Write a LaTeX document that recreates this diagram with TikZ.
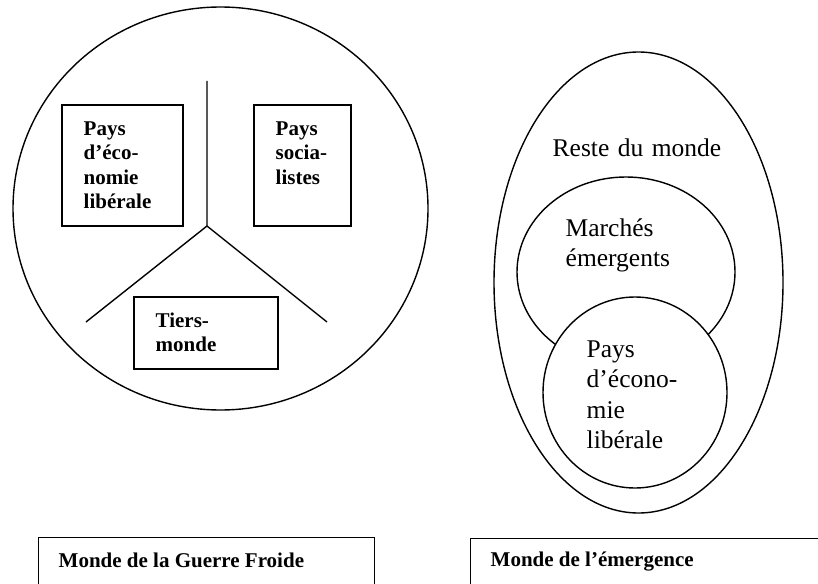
\documentclass[tikz,border=0pt]{standalone}
\usepackage{fontspec}
\setmainfont{Liberation Serif}
\usetikzlibrary{shapes.geometric}
\begin{document}
\begin{tikzpicture}[x=1pt, y=-1pt, line width=1.4pt,
    bloc/.style={draw, rectangle, inner sep=0pt},
    zone/.style={draw, ellipse, inner sep=0pt},
    gras/.style={font=\fontsize{21}{24.5}\selectfont\bfseries, align=left, text width=110pt, inner sep=0pt, anchor=base west},
    texte/.style={font=\fontsize{25.5}{30.5}\selectfont, align=left, text width=170pt, inner sep=0pt, anchor=base west},
    titre/.style={font=\fontsize{21}{24}\selectfont\bfseries, inner sep=0pt, anchor=base west}]
  \useasboundingbox (0,0) rectangle (818,583);
  \clip (0,0) rectangle (818,583);
  % monde de la guerre froide
  \node[zone, minimum width=415pt, minimum height=403pt] (guerre) at (220.5,208.5) {};
  \node[bloc, minimum width=121pt, minimum height=121pt] (liberal) at (122.5,165.5) {};
  \node[bloc, minimum width=97pt, minimum height=121pt] (socialiste) at (302.5,165.5) {};
  \node[bloc, minimum width=144pt, minimum height=72pt] (tiers) at (206,333) {};
  \node[gras] (liberaltxt) at (83,135) {Pays\\d’éco-\\nomie\\libérale};
  \node[gras] (socialistetxt) at (275,135) {Pays\\socia-\\listes};
  \node[gras] (tierstxt) at (155,327) {Tiers-\\monde};
  \coordinate (haut) at (207,81);
  \coordinate (fourche) at (207,226);
  \coordinate (gauche) at (86,322);
  \coordinate (droite) at (327,322);
  \draw (haut) -- (fourche) -- (gauche);
  \draw (fourche) -- (droite);
  % monde de l'emergence
  \node[zone, minimum width=289pt, minimum height=461pt] (reste) at (638.5,282.5) {};
  \node[zone, minimum width=218pt, minimum height=190pt] (marches) at (626,272) {};
  \node[zone, fill=white, minimum width=184pt, minimum height=191pt] (pays) at (635,392.5) {};
  \node[texte] (restetxt) at (552,156) {Reste du monde};
  \node[texte] (marchestxt) at (565,236) {Marchés\\émergents};
  \node[texte] (paystxt) at (586,357) {Pays\\d’écono-\\mie\\libérale};
  % legendes
  \node[bloc, minimum width=336pt, minimum height=80pt, anchor=north west] (cadreguerre) at (38,537) {};
  \node[bloc, minimum width=400pt, minimum height=80pt, anchor=north west] (cadreemergence) at (470,538) {};
  \node[titre] (guerretitre) at (58,567) {Monde de la Guerre Froide};
  \node[titre] (emergtitre) at (490,566) {Monde de l’émergence};
\end{tikzpicture}
\end{document}
